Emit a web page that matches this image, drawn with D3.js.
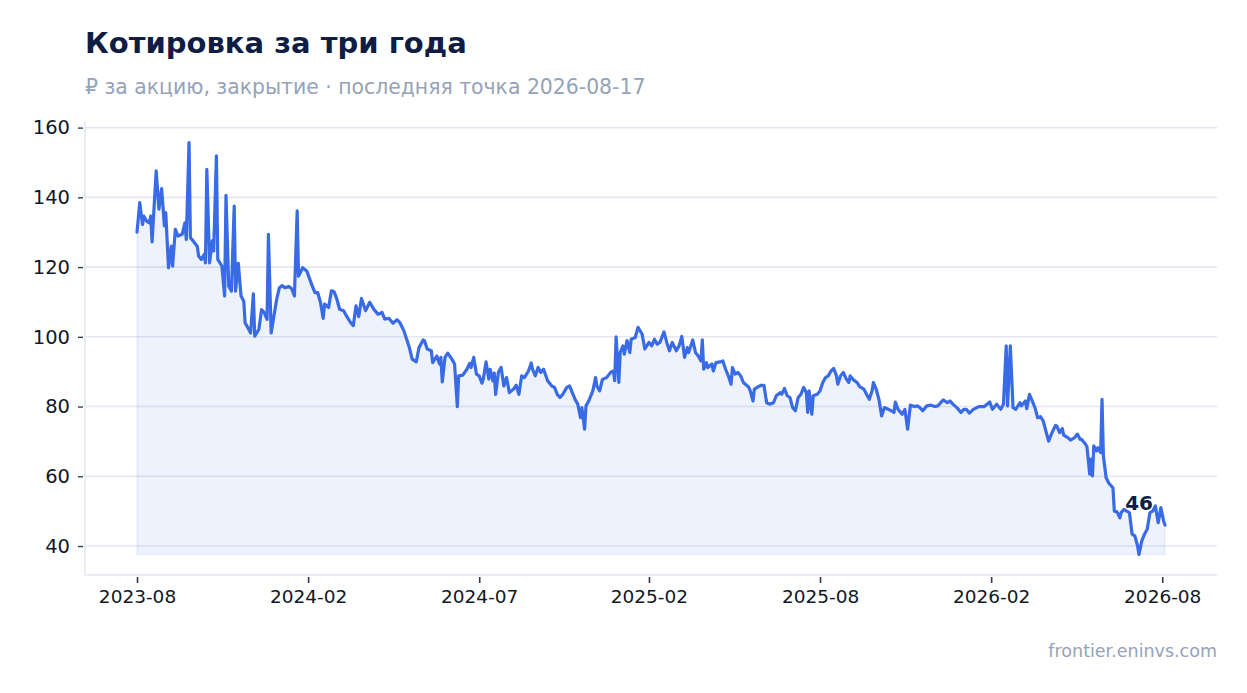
<!DOCTYPE html>
<html><head><meta charset="utf-8">
<script src="https://cdn.jsdelivr.net/npm/d3@7/dist/d3.min.js"></script>
<style>
html,body{margin:0;padding:0;background:#fff;}
svg{display:block;font-family:"DejaVu Sans",sans-serif;}
</style></head>
<body>
<svg id="chart" width="1247" height="693"></svg>
<script>
// Trading-session number (0 = first session, Aug 2023) and close price
const sessions = [0,2,4,5,7,9,10,11,14,16,18,20,21,23,25,26,28,30,33,35,36,38,39,41,44,45,47,49,50,51,53,55,56,58,59,62,64,65,67,69,71,72,74,76,78,79,81,83,85,86,89,91,93,95,96,98,100,102,104,106,108,111,113,115,117,118,121,124,
128,130,132,134,136,137,140,142,144,146,148,151,153,156,158,160,162,164,167,170,173,176,179,181,184,187,190,192,195,197,199,201,204,206,209,210,212,215,216,219,221,222,223,225,227,230,232,234,235,238,241,243,244,246,248,250,252,253,255,257,258,260,261,262,264,266,268,270,272,275,277,279,281,283,286,288,289,
291,293,295,297,300,303,305,307,309,311,314,316,318,320,322,324,325,327,328,330,333,335,336,338,340,343,344,346,348,349,350,352,353,355,356,358,360,361,364,366,369,371,374,376,378,380,382,385,387,389,391,394,396,398,400,402,403,406,408,410,412,413,414,416,417,420,421,423,426,428,430,432,434,435,437,439,441,443,447,448,450,451,454,456,458,460,462,
465,467,470,471,473,475,477,479,481,483,485,487,489,490,491,493,494,497,499,501,503,505,507,509,511,512,514,516,518,520,521,523,526,528,531,533,535,537,538,540,542,544,546,548,551,553,554,556,559,561,563,565,568,570,572,574,577,580,583,585,589,592,594,596,599,602,604,606,608,611,615,
619,623,625,628,631,633,635,636,638,640,642,645,646,649,650,652,654,656,658,660,662,664,666,668,671,672,674,676,677,680,682,685,687,689,690,693,694,696,697,698,699,701,702,704,705,706,708,710,713,714,716,718,719,721,723,725,727,729,731,732,734,736,738,740,742,744,746,748,750,751];
const prices = [130,138.5,132.2,134.6,133.2,132.7,134.6,127.2,147.6,136.6,142.5,131.8,135.6,119.8,126,120.3,130.8,128.9,129.4,132.7,127.9,155.7,128.4,127.5,126,123.2,122.2,123.6,121.2,148,121.2,127.5,124.6,151.9,122.2,120.3,111.7,140.6,114.5,113.1,137.5,113.1,121.1,111.7,110.2,104,102.6,101.1,112.3,100.2,102.1,107.8,106.9,105,129.4,101.1,105.9,110.7,114.1,114.7,114.1,114.4,113.8,111.7,136.1,117.4,119.8,118.9,
114.6,112.7,112.7,109.9,105.3,109.4,108.4,113.2,112.9,110.8,107.9,107.5,106,104.1,103.2,108.9,105.8,111,107.5,109.9,107.9,106.5,107,105.1,105.3,103.9,104.9,104.1,101.7,99.3,96.9,93.6,92.8,96.9,99.1,98.9,96.5,96,92.6,94.5,92.2,94.1,87.1,94.1,95.3,93.6,92.2,80,88.8,89,90.7,92.4,91.2,94.1,89.3,88.8,86.7,87.9,92.8,87.9,90.7,87.4,89.6,83.5,89.8,91.2,85.9,88.3,84,85,86.1,83.5,88.8,88.3,90.2,92.5,90.7,
88.8,91.2,89.8,90.7,87.4,85.9,85.5,83.5,82.6,83.5,85.5,85.9,84,82.1,80.7,76.8,79.7,73.5,80.2,81.6,84.5,88.3,85.9,84.5,87.8,88.3,88.8,89.8,90.2,87.4,100,86.9,95.5,97.4,95,98.9,95.5,99.3,99.8,102.7,100.8,96.5,98.4,97.4,99.3,97.9,98.4,101.4,98.4,96,98.4,96,97.4,100.1,94.1,96.9,95.5,99.1,95.5,94.5,93.1,99.1,90.7,92.6,91.2,92.2,90.2,92.6,92.8,93.1,90.7,88.8,86.4,91.2,89.3,89.8,88.8,86.9,85.5,84.5,81.6,85,85.7,86.1,86.1,81.1,80.7,
81.1,83.1,84,83.5,85.2,83.1,82.6,79.7,78.8,82.6,83.5,85.5,84,78.3,84.5,77.8,83.1,83.5,84.5,86.9,88.3,88.8,90.2,90.9,88.8,86.4,88.8,89.8,88,86.9,88.8,87.8,86.9,85.7,85,83.5,82.1,84.5,86.9,85,82.1,77.3,79.7,79.4,78.8,78.3,81.3,79.2,77.8,79.2,73.5,80.4,80,80.2,79.7,78.8,80.2,80.4,80,80.2,81.9,81.1,81.6,80.7,79.7,78.3,79.2,79.2,78.1,79.2,80,
80,81.3,79.2,80.7,79.2,80.7,97.4,80.2,97.4,79.7,79.2,81.1,80.2,81.6,79.4,83.5,81.6,79.7,76.8,77.1,75.9,73,70.1,72.1,74.6,74.4,72.5,73.7,71.8,71.1,70.4,71.1,72.1,70.6,70.6,69.2,68.5,60.6,64.9,60.1,68.7,67.3,68.2,66.8,82.1,65.8,59.6,58,56.7,50,49.8,48.1,49.6,50.5,50,49.6,43.4,42.9,40,37.6,41.4,43.4,44.8,49.6,50,51.5,46.7,51,47.2,46];
const tickSessions = [0,125,250,374,499,624,749];
const tickLabels = ["2023-08","2024-02","2024-07","2025-02","2025-08","2026-02","2026-08"];
const titleText = "Котировка за три года";
const subtitleText = "₽ за акцию, закрытие · последняя точка 2026-08-17";
const sourceText = "frontier.eninvs.com";

const data = sessions.map((s,i)=>({s, v: prices[i]}));
const svg = d3.select("#chart");
const M = {left:85, right:1217, top:122, bottom:575};
const lastS = d3.max(sessions);
const xPad = lastS*0.0506;
const x = d3.scaleLinear().domain([-xPad, lastS + xPad]).range([M.left, M.right]);
const [vmin, vmax] = d3.extent(prices);
const yPad = (vmax - vmin)*0.05;
const y = d3.scaleLinear().domain([vmin - yPad, vmax + yPad]).range([M.bottom, M.top]);

const blue = "#3a6be6";
const grid = "#e3e8f0";
const ink = "#111827";

// title
svg.append("text").attr("x",85).attr("y",53).attr("font-size",29).attr("font-weight","bold")
  .attr("fill","#0f1c44").text(titleText);
svg.append("text").attr("x",85).attr("y",94).attr("font-size",20.4)
  .attr("fill","#95a3b8").text(subtitleText);

// gridlines
const yTicks = y.ticks(6);
svg.append("g").selectAll("line").data(yTicks).join("line")
  .attr("x1",M.left).attr("x2",M.right).attr("y1",d=>y(d)).attr("y2",d=>y(d))
  .attr("stroke",grid).attr("stroke-width",1.6);

// area
const area = d3.area().x(d=>x(d.s)).y0(y(vmin)).y1(d=>y(d.v));
svg.append("path").datum(data).attr("d",area)
  .attr("fill",blue).attr("fill-opacity",0.09)
  .attr("stroke",blue).attr("stroke-opacity",0.08).attr("stroke-width",1.5);

// line
const line = d3.line().x(d=>x(d.s)).y(d=>y(d.v));
svg.append("path").datum(data).attr("d",line)
  .attr("fill","none").attr("stroke",blue).attr("stroke-width",3.2)
  .attr("stroke-linejoin","round").attr("stroke-linecap","round");

// spines
svg.append("line").attr("x1",M.left).attr("x2",M.left).attr("y1",M.top).attr("y2",M.bottom)
  .attr("stroke",grid).attr("stroke-width",1.6);
svg.append("line").attr("x1",M.left).attr("x2",M.right).attr("y1",M.bottom).attr("y2",M.bottom)
  .attr("stroke",grid).attr("stroke-width",1.6);

// y axis
const yAxis = d3.axisLeft(y).tickValues(yTicks).tickSize(5).tickPadding(8);
const gy = svg.append("g").attr("transform",`translate(${M.left-2},0)`).call(yAxis);
gy.select(".domain").remove();
gy.selectAll(".tick line").attr("stroke","#333b4a").attr("stroke-width",1.4);
gy.selectAll(".tick text").attr("font-size",19.5).attr("fill",ink).attr("font-family","DejaVu Sans");

// x axis
const xAxis = d3.axisBottom(x).tickValues(tickSessions).tickFormat((d,i)=>tickLabels[i]).tickSize(6).tickPadding(7);
const gx = svg.append("g").attr("transform",`translate(0,${M.bottom+2})`).call(xAxis);
gx.select(".domain").remove();
gx.selectAll(".tick line").attr("stroke","#333b4a").attr("stroke-width",1.6);
gx.selectAll(".tick text").attr("font-size",18.5).attr("fill",ink).attr("font-family","DejaVu Sans");

// last value label
const last = data[data.length-1];
svg.append("text").attr("x",x(last.s)-12).attr("y",y(last.v)-15).attr("text-anchor","end")
  .attr("font-size",20).attr("font-weight","bold").attr("fill","#0f1c44").text(d3.format(".0f")(last.v));

// source
svg.append("text").attr("x",1217).attr("y",657).attr("text-anchor","end").attr("font-size",17.5)
  .attr("fill","#95a3b8").text(sourceText);
</script>
</body></html>
